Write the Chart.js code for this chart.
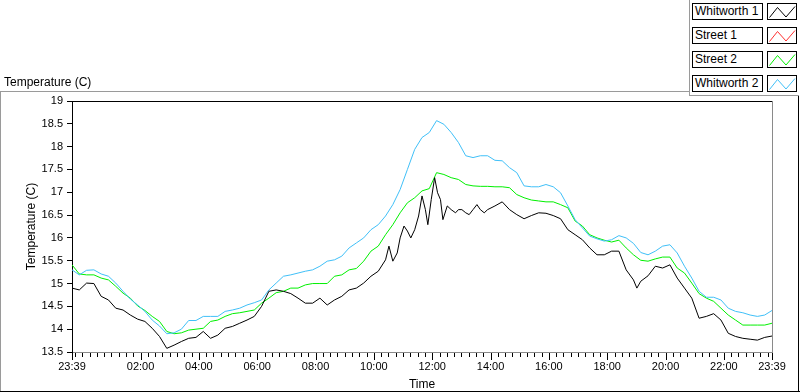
<!DOCTYPE html>
<html>
<head>
<meta charset="utf-8">
<script src="https://cdn.jsdelivr.net/npm/chart.js@4.4.0/dist/chart.umd.min.js"></script>
<style>
  html, body { margin: 0; padding: 0; background: #fff; }
  #wrap { position: relative; width: 800px; height: 392px; overflow: hidden; font-family: "Liberation Sans", Arial, sans-serif; }
  #chart { position: absolute; left: 0; top: 0; }
  #graphLabel { position: absolute; left: 4px; top: 75px; font-size: 12px; color: #000; white-space: nowrap; }
  .lgText { position: absolute; left: 692px; width: 71px; height: 17px; box-sizing: border-box; border: 1px solid #000;
            font-size: 12px; line-height: 15px; padding-left: 2px; background: #fff; white-space: nowrap; }
  .lgSwatch { position: absolute; left: 767px; width: 30px; height: 17px; box-sizing: border-box; border: 1px solid #000; background: #fff; }
  .lgSwatch svg { position: absolute; left: -1px; top: -1px; }
</style>
</head>
<body>
<div id="wrap">
  <canvas id="chart" width="800" height="392"></canvas>
  <div id="graphLabel">Temperature (C)</div>
  <div id="legend"></div>
</div>
<script>
// series names and colours
const seriesNames = ['Whitworth 1', 'Street 1', 'Street 2', 'Whitworth 2'];
const seriesColors = ['#000000', '#ff3030', '#00f000', '#40c0f8'];

// x axis: minutes since 23:39
const xTickMinutes = [0, 141, 261, 381, 501, 621, 741, 861, 981, 1101, 1221, 1341, 1440];
const xTickLabels = ['23:39', '02:00', '04:00', '06:00', '08:00', '10:00', '12:00', '14:00', '16:00', '18:00', '20:00', '22:00', '23:39'];

// Street 2 / Whitworth 2 sampled every 15 min
const times15 = [];
for (let m = 0; m <= 1440; m += 15) times15.push(m);

const street2 = [
  15.41, 15.21, 15.19, 15.19, 15.12, 15.08, 14.94, 14.79, 14.68, 14.51, 14.41, 14.28, 14.17, 13.95, 13.90, 13.92,
  13.98, 14.00, 14.02, 14.17, 14.20, 14.28, 14.34, 14.36, 14.39, 14.42, 14.57, 14.68, 14.80, 14.83, 14.90, 14.90,
  14.97, 15.00, 15.00, 15.00, 15.16, 15.19, 15.30, 15.33, 15.49, 15.71, 15.82, 16.07, 16.29, 16.55, 16.77, 16.88,
  17.03, 17.08, 17.43, 17.39, 17.32, 17.28, 17.17, 17.14, 17.13, 17.13, 17.12, 17.12, 17.10, 16.95, 16.88, 16.83,
  16.81, 16.79, 16.79, 16.73, 16.66, 16.37, 16.26, 16.07, 16.00, 15.95, 15.91, 15.95, 15.78, 15.63, 15.51, 15.49,
  15.54, 15.58, 15.58, 15.34, 15.23, 15.01, 14.78, 14.68, 14.61, 14.46, 14.31, 14.20, 14.09, 14.09, 14.09, 14.09,
  14.13
];

const whitworth2 = [
  15.30, 15.19, 15.29, 15.30, 15.21, 15.16, 15.01, 14.83, 14.66, 14.53, 14.39, 14.20, 14.07, 13.90, 13.92, 14.00,
  14.19, 14.19, 14.28, 14.28, 14.28, 14.39, 14.42, 14.46, 14.53, 14.58, 14.64, 14.86, 15.01, 15.16, 15.19, 15.23,
  15.27, 15.30, 15.38, 15.49, 15.52, 15.60, 15.78, 15.89, 16.00, 16.18, 16.29, 16.48, 16.73, 17.06, 17.50, 17.94,
  18.20, 18.31, 18.57, 18.49, 18.31, 18.09, 17.80, 17.76, 17.80, 17.80, 17.70, 17.69, 17.54, 17.43, 17.14, 17.12,
  17.12, 17.17, 17.12, 16.99, 16.70, 16.40, 16.22, 16.04, 15.98, 15.93, 15.96, 16.05, 16.00, 15.88, 15.68, 15.63,
  15.71, 15.82, 15.85, 15.67, 15.38, 15.12, 14.83, 14.70, 14.70, 14.64, 14.46, 14.39, 14.36, 14.31, 14.28, 14.31,
  14.41
];

// Whitworth 1 has its own (denser) sample times
const times1 = [
  0, 15, 30, 45, 60, 75, 90, 105, 120, 135, 150, 165, 180, 195, 210, 225, 240, 255, 270, 285, 300, 315, 330, 345,
  360, 375, 390, 405, 420, 435, 450, 465, 480, 495, 510, 525, 540, 555, 570, 585, 600, 615, 630, 645, 652, 660,
  669, 675, 683, 690, 697, 705, 713, 720, 727, 732, 739, 746, 752, 758, 763, 772, 780, 789, 795, 802, 810, 817,
  825, 833, 840, 848, 855, 870, 885, 900, 915, 930, 945, 960, 975, 990, 1005, 1020, 1035, 1050, 1065, 1080, 1095,
  1110, 1125, 1140, 1155, 1162, 1170, 1185, 1200, 1215, 1230, 1245, 1260, 1275, 1290, 1305, 1320, 1335, 1350,
  1365, 1380, 1395, 1410, 1425, 1440
];
const whitworth1 = [
  14.90, 14.86, 15.01, 15.00, 14.72, 14.64, 14.46, 14.42, 14.31, 14.22, 14.17, 14.02, 13.84, 13.58, 13.65, 13.73,
  13.80, 13.82, 13.95, 13.80, 13.87, 14.02, 14.06, 14.13, 14.20, 14.28, 14.50, 14.83, 14.86, 14.83, 14.78, 14.68,
  14.57, 14.57, 14.68, 14.53, 14.64, 14.72, 14.86, 14.90, 15.01, 15.16, 15.27, 15.52, 15.82, 15.49, 15.67, 16.00,
  16.26, 16.15, 16.00, 16.18, 16.48, 16.92, 16.62, 16.29, 16.84, 17.32, 16.99, 16.84, 16.40, 16.70, 16.62, 16.55,
  16.62, 16.62, 16.55, 16.51, 16.62, 16.73, 16.62, 16.55, 16.62, 16.70, 16.79, 16.62, 16.51, 16.42, 16.49, 16.55,
  16.54, 16.49, 16.42, 16.18, 16.07, 15.96, 15.78, 15.63, 15.63, 15.71, 15.71, 15.30, 15.08, 14.90, 15.05, 15.17,
  15.38, 15.34, 15.41, 15.12, 14.90, 14.68, 14.24, 14.28, 14.34, 14.20, 13.91, 13.84, 13.80, 13.78, 13.76, 13.82,
  13.85
];
const street1 = []; // no data recorded

const toPoints = (ts, vs) => ts.map((t, i) => ({ x: t, y: vs[i] }));

// legend (html)
const legend = document.getElementById('legend');
seriesNames.forEach((name, i) => {
  const top = 3 + i * 24;
  const t = document.createElement('div');
  t.className = 'lgText';
  t.style.top = top + 'px';
  t.textContent = name;
  legend.appendChild(t);
  const s = document.createElement('div');
  s.className = 'lgSwatch';
  s.style.top = top + 'px';
  s.innerHTML = '<svg width="30" height="17"><polyline points="2.5,14.5 10.5,4.5 19,14 28,3.5" fill="none" stroke="' +
    seriesColors[i] + '" stroke-width="1"/></svg>';
  legend.appendChild(s);
});

// frame lines and x tick marks
const framePlugin = {
  id: 'frame',
  beforeDraw(chart) {
    const ctx = chart.ctx;
    ctx.save();
    ctx.fillStyle = '#fff';
    ctx.fillRect(0, 0, chart.width, chart.height);
    ctx.restore();
  },
  afterDraw(chart) {
    const ctx = chart.ctx;
    const a = chart.chartArea;
    const xs = chart.scales.x;
    ctx.save();
    // plot area inset
    ctx.fillStyle = '#000';
    ctx.fillRect(a.left, a.top, a.right - a.left + 1, 1);
    ctx.fillStyle = '#8a8a8a';
    ctx.fillRect(a.right, a.top, 1, a.bottom - a.top + 1);
    // x tick marks
    ctx.fillStyle = '#000';
    xs.ticks.forEach(t => {
      const px = Math.round(xs.getPixelForValue(t.value));
      ctx.fillRect(px, a.bottom + 1, 1, t.major ? 7 : 4);
    });
    // outer frame
    ctx.fillStyle = '#9a9a9a';
    ctx.fillRect(0, 91, 689, 1);
    ctx.fillRect(0, 91, 1, 301);
    ctx.fillRect(689, 0, 1, 96);
    ctx.fillRect(689, 95, 110, 1);
    ctx.fillStyle = '#000';
    ctx.fillRect(0, 391, 800, 1);
    ctx.fillRect(798, 96, 1, 296);
    ctx.restore();
  }
};

Chart.defaults.font.family = '"Liberation Sans", Arial, sans-serif';
Chart.defaults.color = '#000';

const datasets = [
  { label: seriesNames[0], data: toPoints(times1, whitworth1) },
  { label: seriesNames[1], data: street1 },
  { label: seriesNames[2], data: toPoints(times15, street2) },
  { label: seriesNames[3], data: toPoints(times15, whitworth2) }
].map((d, i) => Object.assign(d, {
  borderColor: seriesColors[i],
  backgroundColor: seriesColors[i],
  borderWidth: 1,
  pointRadius: 0,
  tension: 0,
  fill: false
}));
// draw black on top
datasets.forEach((d, i) => { d.order = i === 0 ? 0 : 4 - i; });

new Chart(document.getElementById('chart'), {
  type: 'line',
  data: { datasets: datasets },
  options: {
    responsive: false,
    animation: false,
    layout: { padding: { top: 101, right: 28, left: 0, bottom: 0 } },
    plugins: { legend: { display: false }, tooltip: { enabled: false } },
    scales: {
      x: {
        type: 'linear',
        min: 0,
        max: 1440,
        afterFit(scale) { scale.height = 40; },
        afterBuildTicks(scale) {
          const ticks = [{ value: 0, major: true }];
          for (let m = 6; m < 1440; m += 15) {
            ticks.push({ value: m, major: xTickMinutes.includes(m) });
          }
          ticks.push({ value: 1440, major: true });
          scale.ticks = ticks;
        },
        grid: { display: false, drawTicks: false },
        border: { display: true, color: '#8a8a8a', width: 1 },
        ticks: {
          autoSkip: false,
          maxRotation: 0,
          minRotation: 0,
          padding: 8,
          font: { size: 11 },
          callback(value) {
            const k = xTickMinutes.indexOf(value);
            return k >= 0 ? xTickLabels[k] : '';
          }
        },
        title: { display: true, text: 'Time', font: { size: 12 }, padding: { top: 0, bottom: 0 } }
      },
      y: {
        min: 13.5,
        max: 19,
        afterFit(scale) { scale.width = 72; },
        grid: { display: true, drawOnChartArea: false, drawTicks: true, tickLength: 5, color: '#000' },
        border: { display: true, color: '#000', width: 1 },
        ticks: {
          stepSize: 0.5,
          padding: 4,
          font: { size: 11 },
          callback(value) { return String(Number(value.toFixed(2))); }
        },
        title: { display: true, text: 'Temperature (C)', font: { size: 12 }, padding: { top: 24, bottom: 0 } }
      }
    }
  },
  plugins: [framePlugin]
});
</script>
</body>
</html>
